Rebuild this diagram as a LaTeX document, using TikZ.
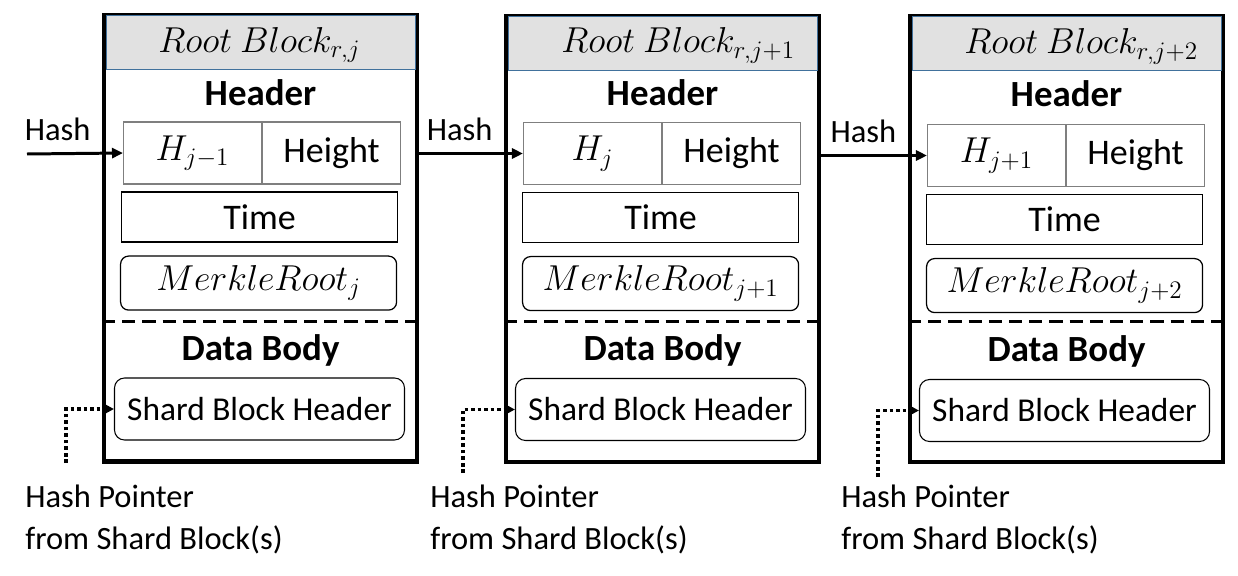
\RequirePackage{fix-cm}
\documentclass[tikz,border=0pt]{standalone}
\usepackage{fontspec}
\setmainfont{Carlito}
\usetikzlibrary{arrows.meta,positioning,calc}
\definecolor{ttlfill}{HTML}{E1E1E1}
\definecolor{ttlline}{HTML}{41719C}
\definecolor{cellline}{HTML}{7F7F7F}

\begin{document}
\begin{tikzpicture}[
  blk/.style={draw, line width=2.3pt, minimum width=6.26cm, minimum height=8.92cm, inner sep=0pt},
  ttl/.style={draw=ttlline, line width=0.5pt, fill=ttlfill, minimum width=6.18cm, minimum height=1.08cm, inner sep=0pt, anchor=north},
  ttltxt/.style={font=\fontsize{20.5}{22}\selectfont, anchor=base west, inner sep=0pt},
  hd/.style={font=\fontsize{21}{24}\selectfont\bfseries, anchor=base, inner sep=0pt},
  cell/.style={draw=cellline, line width=0.6pt, minimum width=2.76cm, minimum height=1.24cm, inner sep=0pt, font=\fontsize{20.5}{24}\selectfont},
  tbox/.style={draw, line width=0.7pt, minimum width=5.52cm, minimum height=1cm, inner sep=0pt, anchor=north west, font=\fontsize{20.5}{24}\selectfont},
  mroot/.style={tbox, minimum height=1.08cm, rounded corners=0.16cm},
  shard/.style={draw, line width=0.6pt, rounded corners=0.2cm, minimum width=5.8cm, minimum height=1.24cm, inner sep=0pt, anchor=north west, font=\fontsize{19}{22}\selectfont},
  sep/.style={line width=1.7pt, dash pattern=on 7.5pt off 4pt},
  arr/.style={-{Triangle[length=0.22cm,width=0.2cm]}, line width=1.7pt},
  ptr/.style={-{Triangle[length=0.2cm,width=0.2cm]}, line width=1.8pt, dash pattern=on 2pt off 1.7pt},
  note/.style={font=\fontsize{18.5}{23.9}\selectfont, align=left, anchor=west, inner sep=0pt},
  lbl/.style={font=\fontsize{18.5}{20}\selectfont, inner sep=0pt},
]
\useasboundingbox (0,0) rectangle (24.76,-11.52);

% block j
\node[blk] (B1) at (5.21,-4.77) {};
\node[ttl] (T1) at ([yshift=-0.04cm]B1.north) {};
\node[ttltxt] (T1txt) at ([xshift=1.12cm, yshift=-0.78cm]B1.north west) {$Root\ Block_{r,j}$};
\node[hd] (Hd1) at ([yshift=-1.84cm]B1.north) {Header};
\node[cell, anchor=north west] (H1) at ([xshift=0.42cm, yshift=-2.16cm]B1.north west) {$H_{j-1}$};
\node[cell, right=0pt of H1] (Ht1) {Height};
\node[tbox] (Tm1) at ([xshift=0.38cm, yshift=-3.56cm]B1.north west) {Time};
\node[mroot] (M1) at ([xshift=0.36cm, yshift=-4.84cm]B1.north west) {$MerkleRoot_j$};
\draw[sep] ([yshift=-6.16cm]B1.north west) -- ([yshift=-6.16cm]B1.north east);
\node[hd] (D1) at ([yshift=-6.94cm]B1.north) {Data Body};
\node[shard] (S1) at ([xshift=0.24cm, yshift=-7.28cm]B1.north west) {Shard Block Header};

% block j+1
\node[blk] (B2) at (13.25,-4.78) {};
\node[ttl] (T2) at ([yshift=-0.04cm]B2.north) {};
\node[ttltxt] (T2txt) at ([xshift=1.14cm, yshift=-0.78cm]B2.north west) {$Root\ Block_{r,j+1}$};
\node[hd] (Hd2) at ([yshift=-1.84cm]B2.north) {Header};
\node[cell, anchor=north west] (H2) at ([xshift=0.38cm, yshift=-2.16cm]B2.north west) {$H_{j}$};
\node[cell, right=0pt of H2] (Ht2) {Height};
\node[tbox] (Tm2) at ([xshift=0.36cm, yshift=-3.56cm]B2.north west) {Time};
\node[mroot] (M2) at ([xshift=0.36cm, yshift=-4.84cm]B2.north west) {$MerkleRoot_{j+1}$};
\draw[sep] ([yshift=-6.16cm]B2.north west) -- ([yshift=-6.16cm]B2.north east);
\node[hd] (D2) at ([yshift=-6.94cm]B2.north) {Data Body};
\node[shard] (S2) at ([xshift=0.22cm, yshift=-7.28cm]B2.north west) {Shard Block Header};

% block j+2
\node[blk] (B3) at (21.33,-4.78) {};
\node[ttl] (T3) at ([yshift=-0.04cm]B3.north) {};
\node[ttltxt] (T3txt) at ([xshift=1.12cm, yshift=-0.8cm]B3.north west) {$Root\ Block_{r,j+2}$};
\node[hd] (Hd3) at ([yshift=-1.86cm]B3.north) {Header};
\node[cell, anchor=north west] (H3) at ([xshift=0.38cm, yshift=-2.2cm]B3.north west) {$H_{j+1}$};
\node[cell, right=0pt of H3] (Ht3) {Height};
\node[tbox] (Tm3) at ([xshift=0.36cm, yshift=-3.6cm]B3.north west) {Time};
\node[mroot] (M3) at ([xshift=0.36cm, yshift=-4.88cm]B3.north west) {$MerkleRoot_{j+2}$};
\draw[sep] ([yshift=-6.16cm]B3.north west) -- ([yshift=-6.16cm]B3.north east);
\node[hd] (D3) at ([yshift=-6.96cm]B3.north) {Data Body};
\node[shard] (S3) at ([xshift=0.22cm, yshift=-7.3cm]B3.north west) {Shard Block Header};

% hash links
\coordinate (in1) at (0.54,-3.08);
\draw[arr] (in1) -- node[lbl, above, pos=0.32, yshift=0.22cm] {Hash} (H1.west);
\draw[arr] (B1.east |- H2.west) -- node[lbl, above, pos=0.39, yshift=0.22cm] {Hash} (H2.west);
\draw[arr] (B2.east |- H3.west) -- node[lbl, above, pos=0.4, yshift=0.22cm] {Hash} (H3.west);

% hash pointers from shard blocks
\coordinate (p1) at (1.32,-9.26);
\coordinate (p2) at (9.26,-9.46);
\coordinate (p3) at (17.56,-9.54);
\draw[ptr] (p1) |- (S1.west);
\draw[ptr] (p2) |- (S2.west);
\draw[ptr] (p3) |- (S3.west);
\node[note] (n1) at (0.5,-10.38) {Hash Pointer\\from Shard Block(s)};
\node[note] (n2) at (8.6,-10.38) {Hash Pointer\\from Shard Block(s)};
\node[note] (n3) at (16.82,-10.38) {Hash Pointer\\from Shard Block(s)};

\end{tikzpicture}
\end{document}
